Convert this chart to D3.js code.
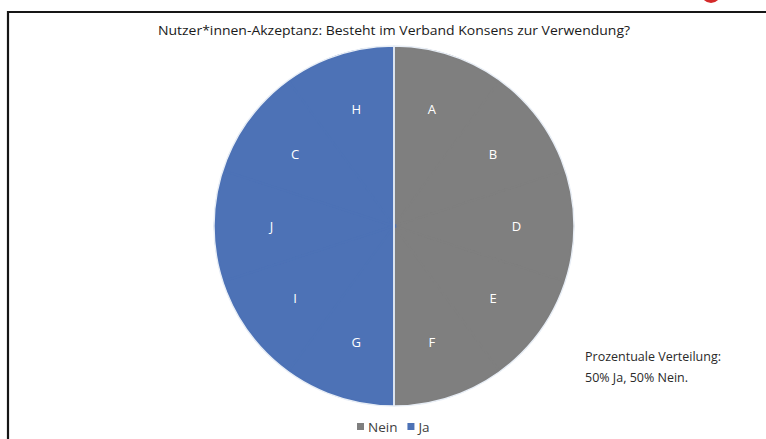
<!DOCTYPE html>
<html>
<head>
<meta charset="utf-8">
<script src="https://d3js.org/d3.v7.min.js"></script>
<style>
  body { margin: 0; background: #fff; }
  svg { display: block; }
</style>
</head>
<body>
<div id="chart"></div>
<script>
// Data
const sliceLabels = ['A', 'B', 'D', 'E', 'F', 'G', 'I', 'J', 'C', 'H'];
const sliceValues = [1, 1, 1, 1, 1, 1, 1, 1, 1, 1];
const sliceGroups = ['Nein', 'Nein', 'Nein', 'Nein', 'Nein', 'Ja', 'Ja', 'Ja', 'Ja', 'Ja'];
const groupNames = ['Nein', 'Ja'];
const groupColors = ['#7f7f7f', '#4d72b6'];
const titleText = 'Nutzer*innen-Akzeptanz: Besteht im Verband Konsens zur Verwendung?';
const noteLines = ['Prozentuale Verteilung:', '50% Ja, 50% Nein.'];

const W = 766, H = 439;
const cx = 394, cy = 226, r = 180;
const font = '"Open Sans", "Noto Sans", sans-serif';

const svg = d3.select('#chart').append('svg')
    .attr('width', W)
    .attr('height', H);

// Frame
svg.append('path')
    .attr('d', `M8,${H} L8,12 L${W},12`)
    .attr('fill', 'none')
    .attr('stroke', '#161616')
    .attr('stroke-width', 2.2);

// bit of logo peeking in at top right
svg.append('circle')
    .attr('cx', 711).attr('cy', -7).attr('r', 10)
    .attr('fill', '#d42a2a');

// Title
svg.append('text')
    .attr('x', cx)
    .attr('y', 35)
    .attr('text-anchor', 'middle')
    .attr('font-family', font)
    .attr('font-size', 13)
    .attr('fill', '#1a1a1a')
    .attr('textLength', 472)
    .attr('lengthAdjust', 'spacingAndGlyphs')
    .text(titleText);

const color = d3.scaleOrdinal().domain(groupNames).range(groupColors);

const data = sliceLabels.map((l, i) => ({ label: l, value: sliceValues[i], group: sliceGroups[i] }));

const pie = d3.pie().sort(null).value(d => d.value);
const arc = d3.arc().innerRadius(0).outerRadius(r);
const seamArc = d3.arc().innerRadius(0).outerRadius(r - 1.5);
const labelArc = d3.arc().innerRadius(r * 0.68).outerRadius(r * 0.68);

const g = svg.append('g').attr('transform', `translate(${cx},${cy})`);

// Slices (same colour within a group)
g.selectAll('.slice')
    .data(pie(data))
    .enter()
    .append('path')
    .attr('class', 'slice')
    .attr('d', arc)
    .attr('fill', d => color(d.data.group));

// cover the anti-aliased seams inside each group
g.selectAll('.seam')
    .data(pie(data))
    .enter()
    .append('path')
    .attr('class', 'seam')
    .attr('d', seamArc)
    .attr('fill', 'none')
    .attr('stroke', d => color(d.data.group))
    .attr('stroke-width', 2);

// Group outlines: thin light separator between Nein and Ja
const groupTotals = groupNames.map(n => ({
    name: n,
    value: d3.sum(data.filter(d => d.group === n), d => d.value)
}));
g.selectAll('.group')
    .data(pie(groupTotals))
    .enter()
    .append('path')
    .attr('class', 'group')
    .attr('d', arc)
    .attr('fill', 'none')
    .attr('stroke', '#e8eef6')
    .attr('stroke-width', 1.4);

// Letter labels
g.selectAll('.lbl')
    .data(pie(data))
    .enter()
    .append('text')
    .attr('class', 'lbl')
    .attr('transform', d => `translate(${labelArc.centroid(d)})`)
    .attr('text-anchor', 'middle')
    .attr('dy', '0.35em')
    .attr('font-family', font)
    .attr('font-size', 13)
    .attr('fill', '#ffffff')
    .text(d => d.data.label);

// Legend
const legend = svg.append('g').attr('transform', 'translate(357,427)');
let lx = 0;
groupNames.forEach((n, i) => {
    legend.append('rect')
        .attr('x', lx).attr('y', -4)
        .attr('width', 7).attr('height', 7)
        .attr('fill', color(n));
    const t = legend.append('text')
        .attr('x', lx + 11)
        .attr('y', 5)
        .attr('font-family', font)
        .attr('font-size', 13.5)
        .attr('fill', '#404040')
        .text(n);
    lx += 11 + t.node().getComputedTextLength() + 10;
});

// Note on the right
svg.append('g')
    .selectAll('text')
    .data(noteLines)
    .enter()
    .append('text')
    .attr('x', 585)
    .attr('y', (d, i) => 361 + i * 21)
    .attr('font-family', font)
    .attr('font-size', 12.5)
    .attr('fill', '#2a2a2a')
    .text(d => d);
</script>
</body>
</html>
